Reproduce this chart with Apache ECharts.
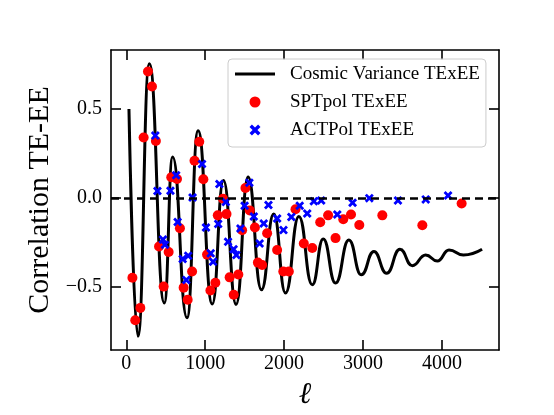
<!DOCTYPE html>
<html><head><meta charset="utf-8">
<script src="https://cdn.jsdelivr.net/npm/echarts@6/dist/echarts.min.js"></script>
<style>html,body{margin:0;padding:0;background:#fff}#c{width:554px;height:415px}</style>
</head><body><div id="c"></div>
<script>
// Cosmic variance TExEE curve (extrema)
const cvEll = [34, 148, 292, 482, 588, 770, 910, 1090, 1232, 1392, 1544, 1713, 1869, 2018, 2187, 2357, 2496, 2652, 2821, 2978, 3138, 3299, 3468, 3625, 3794, 3942, 4090, 4272, 4509];
const cvVal = [0.50, -0.78, 0.755, -0.592, 0.23, -0.676, 0.378, -0.598, 0.097, -0.60, 0.117, -0.518, -0.092, -0.536, -0.105, -0.49, -0.232, -0.48, -0.238, -0.434, -0.303, -0.425, -0.29, -0.382, -0.322, -0.356, -0.294, -0.322, -0.29];

// SPTpol TExEE
const sptEll = [78,114,178,220,275,326,375,415,474,537,570,643,680,727,778,834,865,925,977,1024,1066,1129,1160,1225,1270,1310,1362,1420,1468,1510,1565,1630,1668,1722,1785,1912,1990,2060,2145,2250,2357,2458,2558,2652,2750,2848,2953,3245,3752,4250];
const sptVal = [-0.45,-0.69,-0.62,0.339,0.711,0.627,0.32,-0.274,-0.50,-0.305,0.116,0.106,-0.172,-0.506,-0.574,-0.415,0.208,0.315,0.104,-0.32,-0.522,-0.478,-0.099,-0.005,-0.092,-0.448,-0.546,-0.432,-0.183,0.055,-0.071,-0.167,-0.365,-0.378,-0.2,-0.294,-0.415,-0.415,-0.065,-0.257,-0.283,-0.138,-0.099,-0.227,-0.121,-0.094,-0.153,-0.099,-0.155,-0.032];

// ACTPol TExEE
const actEll = [368,395,465,490,560,632,651,715,761,785,840,960,1010,1070,1100,1165,1180,1262,1290,1360,1395,1447,1500,1560,1616,1690,1742,1802,1912,1992,2092,2198,2293,2377,2470,2674,2868,3080,3443,3795,4078];
const actVal = [0.35,0.038,-0.235,-0.265,0.04,0.127,-0.136,-0.345,-0.463,-0.326,0.002,0.19,-0.167,-0.313,-0.36,-0.147,0.078,-0.024,-0.248,-0.29,-0.322,-0.173,-0.045,0.085,-0.105,-0.257,-0.145,-0.041,-0.117,-0.182,-0.108,-0.045,-0.089,-0.02,-0.015,-0.094,-0.028,-0.002,-0.015,-0.009,0.013];

const xTicks = [0, 1000, 2000, 3000, 4000];
const yTicks = [-0.5, 0, 0.5];
const xMin = -193.5, xMax = 4723.5;
const yMin = -0.857, yMax = 0.832;

const names = ['Cosmic Variance TExEE', 'SPTpol TExEE', 'ACTPol TExEE'];
const FONT = '"Liberation Serif", "DejaVu Serif", serif';
const XPATH = 'path://M0,2.2 L2.2,0 L5,2.8 L7.8,0 L10,2.2 L7.2,5 L10,7.8 L7.8,10 L5,7.2 L2.2,10 L0,7.8 L2.8,5 Z';
const LINEICON = 'path://M0,0 H40 V3 H0 Z';

const zip = (a, b) => a.map((v, i) => [v, b[i]]);
const fmtY = v => (v < 0 ? '\u2212' + Math.abs(v).toFixed(1) : v.toFixed(1));
const fmtX = v => String(Math.round(v));

const lineBlk = { color: '#000', width: 1.6 };
function xAx(pos, labels) {
  return {
    type: 'value', min: xMin, max: xMax, position: pos,
    axisLine: { show: true, onZero: false, lineStyle: lineBlk },
    axisTick: { show: true, inside: true, length: 10, customValues: xTicks, lineStyle: lineBlk },
    axisLabel: { show: labels, customValues: xTicks, formatter: fmtX, fontFamily: FONT, fontSize: 20, color: '#000', margin: 4 },
    splitLine: { show: false },
    name: labels ? '\u2113' : '', nameLocation: 'middle', nameGap: 30,
    nameTextStyle: { fontFamily: FONT, fontSize: 30, fontStyle: 'italic', color: '#000' }
  };
}
function yAx(pos, labels) {
  return {
    type: 'value', min: yMin, max: yMax, position: pos,
    axisLine: { show: true, onZero: false, lineStyle: lineBlk },
    axisTick: { show: true, inside: true, length: 10, customValues: yTicks, lineStyle: lineBlk },
    axisLabel: { show: labels, customValues: yTicks, formatter: fmtY, fontFamily: FONT, fontSize: 20, color: '#000', margin: 9 },
    splitLine: { show: false },
    name: labels ? 'Correlation TE-EE' : '', nameLocation: 'middle', nameGap: 54,
    nameTextStyle: { fontFamily: FONT, fontSize: 30, color: '#000' }
  };
}

const chart = echarts.init(document.getElementById('c'), null, { renderer: 'canvas' });
chart.setOption({
  animation: false,
  backgroundColor: '#fff',
  grid: { left: 111, right: 55, top: 50, bottom: 63, containLabel: false },
  xAxis: [xAx('bottom', true), xAx('top', false)],
  yAxis: [yAx('left', true), yAx('right', false)],
  legend: {
    orient: 'vertical', left: 228, top: 59,
    padding: [5, 6, 7, 7], itemGap: 8, itemWidth: 40, itemHeight: 11,
    backgroundColor: 'rgba(255,255,255,0.8)', borderColor: '#cccccc', borderWidth: 1, borderRadius: 4,
    textStyle: { fontFamily: FONT, fontSize: 19, color: '#000', lineHeight: 20, padding: [0, 0, 0, 10] },
    data: [
      { name: names[0], icon: LINEICON, itemStyle: { color: '#000' } },
      { name: names[1], icon: 'circle' },
      { name: names[2], icon: XPATH }
    ]
  },
  series: [
    {
      name: names[0], type: 'line', data: zip(cvEll, cvVal),
      smooth: 0.5, smoothMonotone: 'x', showSymbol: false, symbol: 'none',
      lineStyle: { color: '#000', width: 3 }, itemStyle: { color: '#000' }, z: 2,
      markLine: {
        silent: true, symbol: 'none', label: { show: false },
        lineStyle: { color: '#000', width: 2.5, type: [8, 5] },
        data: [{ yAxis: 0 }]
      }
    },
    {
      name: names[1], type: 'scatter', data: zip(sptEll, sptVal),
      symbol: 'circle', symbolSize: 10, itemStyle: { color: '#ff0000', opacity: 1 }, z: 3
    },
    {
      name: names[2], type: 'scatter', data: zip(actEll, actVal),
      symbol: XPATH, symbolSize: 9, itemStyle: { color: '#0000ff', opacity: 1 }, z: 4
    }
  ]
});
</script></body></html>
